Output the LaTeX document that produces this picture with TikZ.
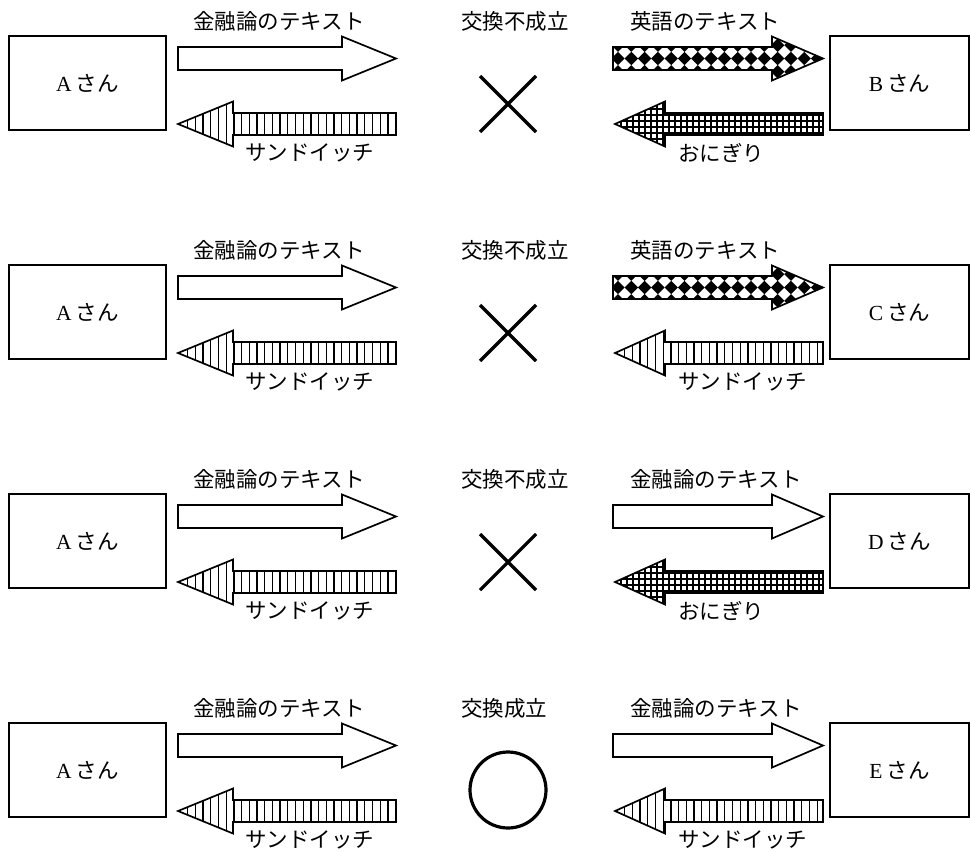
\documentclass[tikz,border=0pt]{standalone}
\usepackage{fontspec}
\setmainfont{Liberation Serif}
\newfontfamily\jp{Noto Sans CJK JP}
\newcommand\fs{\fontsize{21.5pt}{24pt}\selectfont}
% right-pointing block arrow: #1 left x, #2 head base x, #3 tip x, #4 centre y, #5 fill code
\newcommand\RArrow[5]{%
  \begin{scope}
    \clip (#1,#4-11.5) -- (#2,#4-11.5) -- (#2,#4-22) -- (#3,#4) -- (#2,#4+22) -- (#2,#4+11.5) -- (#1,#4+11.5) -- cycle;
    #5
  \end{scope}
  \draw[aline] (#1,#4-11.5) -- (#2,#4-11.5) -- (#2,#4-22) -- (#3,#4) -- (#2,#4+22) -- (#2,#4+11.5) -- (#1,#4+11.5) -- cycle;}
% left-pointing block arrow: #1 tip x, #2 head base x, #3 right x, #4 centre y, #5 fill code
\newcommand\LArrow[5]{%
  \begin{scope}
    \clip (#1,#4) -- (#2,#4-22.5) -- (#2,#4-11) -- (#3,#4-11) -- (#3,#4+11) -- (#2,#4+11) -- (#2,#4+22.5) -- cycle;
    #5
  \end{scope}
  \draw[aline] (#1,#4) -- (#2,#4-22.5) -- (#2,#4-11) -- (#3,#4-11) -- (#3,#4+11) -- (#2,#4+11) -- (#2,#4+22.5) -- cycle;}
\newcommand\vlinesfill[2]{\foreach \i in {0,...,30}{\draw[pl] (#1+\i*7.7,#2-26) -- (#1+\i*7.7,#2+26);}}
\newcommand\gridfill[2]{%
  \foreach \i in {0,...,40}{\draw[gl] (#1+\i*6,#2-26) -- (#1+\i*6,#2+26);}
  \foreach \j in {-4,...,4}{\draw[gl] (#1-5,#2+\j*6+3) -- (#1+240,#2+\j*6+3);}}
\newcommand\diafill[2]{%
  \foreach \i in {0,...,17}{\foreach \j in {-2,...,2}{%
    \fill[shift={(#1+\i*13.3,#2+\j*13.3)}] (-6.7,0) .. controls (-2.7,-2.7) .. (0,-6.7)
       .. controls (2.7,-2.7) .. (6.7,0) .. controls (2.7,2.7) .. (0,6.7)
       .. controls (-2.7,2.7) .. (-6.7,0) -- cycle;}}}
\begin{document}
\begin{tikzpicture}[x=1pt,y=-1pt,
  box/.style={draw,line width=1.3pt,minimum width=157pt,minimum height=94pt,inner sep=0pt,font=\fs},
  rbox/.style={box,minimum width=139pt},
  lbl/.style={anchor=west,inner sep=0pt,font=\fs\jp},
  aline/.style={line width=1.7pt,line join=miter},
  pl/.style={line width=1.25pt},
  gl/.style={line width=1.1pt},
  xline/.style={line width=3.2pt}]
\useasboundingbox (0,0) rectangle (971,851);

% ---------- row 1 ----------
\begin{scope}[shift={(0,0)}]
  \node[box] (A1) at (87.5,83) {A\kern4pt{\jp さん}};
  \node[rbox] (B1) at (899.5,83) {B\kern4pt{\jp さん}};
  \node[lbl] (l1a) at (193,21) {金融論のテキスト};
  \node[lbl] (l1b) at (245,153) {サンドイッチ};
  \node[lbl] (l1c) at (461,21) {交換不成立};
  \node[lbl] (l1d) at (630,21) {英語のテキスト};
  \node[lbl] (l1e) at (678,153) {おにぎり};
  \RArrow{178}{342}{396}{58.5}{}
  \LArrow{178}{233}{396}{124}{\vlinesfill{180}{124}}
  \RArrow{613}{772}{823}{58.5}{\diafill{618}{58.5}}
  \LArrow{615}{665}{823}{124}{\gridfill{615}{124}}
  \draw[xline] (480,76) -- (536,132) (480,132) -- (536,76);
\end{scope}

% ---------- row 2 ----------
\begin{scope}[shift={(0,229)}]
  \node[box] (A2) at (87.5,83) {A\kern4pt{\jp さん}};
  \node[rbox] (C2) at (899.5,83) {C\kern4pt{\jp さん}};
  \node[lbl] (l2a) at (193,21) {金融論のテキスト};
  \node[lbl] (l2b) at (245,153) {サンドイッチ};
  \node[lbl] (l2c) at (461,21) {交換不成立};
  \node[lbl] (l2d) at (630,21) {英語のテキスト};
  \node[lbl] (l2e) at (678,153) {サンドイッチ};
  \RArrow{178}{342}{396}{58.5}{}
  \LArrow{178}{233}{396}{124}{\vlinesfill{180}{124}}
  \RArrow{613}{772}{823}{58.5}{\diafill{618}{58.5}}
  \LArrow{615}{665}{823}{124}{\vlinesfill{617}{124}}
  \draw[xline] (480,76) -- (536,132) (480,132) -- (536,76);
\end{scope}

% ---------- row 3 ----------
\begin{scope}[shift={(0,458)}]
  \node[box] (A3) at (87.5,83) {A\kern4pt{\jp さん}};
  \node[rbox] (D3) at (899.5,83) {D\kern4pt{\jp さん}};
  \node[lbl] (l3a) at (193,21) {金融論のテキスト};
  \node[lbl] (l3b) at (245,153) {サンドイッチ};
  \node[lbl] (l3c) at (461,21) {交換不成立};
  \node[lbl] (l3d) at (630,21) {金融論のテキスト};
  \node[lbl] (l3e) at (678,153) {おにぎり};
  \RArrow{178}{342}{396}{58.5}{}
  \LArrow{178}{233}{396}{124}{\vlinesfill{180}{124}}
  \RArrow{613}{772}{823}{58.5}{}
  \LArrow{615}{665}{823}{124}{\gridfill{615}{124}}
  \draw[xline] (480,76) -- (536,132) (480,132) -- (536,76);
\end{scope}

% ---------- row 4 ----------
\begin{scope}[shift={(0,687)}]
  \node[box] (A4) at (87.5,83) {A\kern4pt{\jp さん}};
  \node[rbox] (E4) at (899.5,83) {E\kern4pt{\jp さん}};
  \node[lbl] (l4a) at (193,21) {金融論のテキスト};
  \node[lbl] (l4b) at (245,153) {サンドイッチ};
  \node[lbl] (l4c) at (461,21) {交換成立};
  \node[lbl] (l4d) at (630,21) {金融論のテキスト};
  \node[lbl] (l4e) at (678,153) {サンドイッチ};
  \RArrow{178}{342}{396}{58.5}{}
  \LArrow{178}{233}{396}{124}{\vlinesfill{180}{124}}
  \RArrow{613}{772}{823}{58.5}{}
  \LArrow{615}{665}{823}{124}{\vlinesfill{617}{124}}
  \draw[xline] (508,103) circle[radius=38];
\end{scope}
\end{tikzpicture}
\end{document}
